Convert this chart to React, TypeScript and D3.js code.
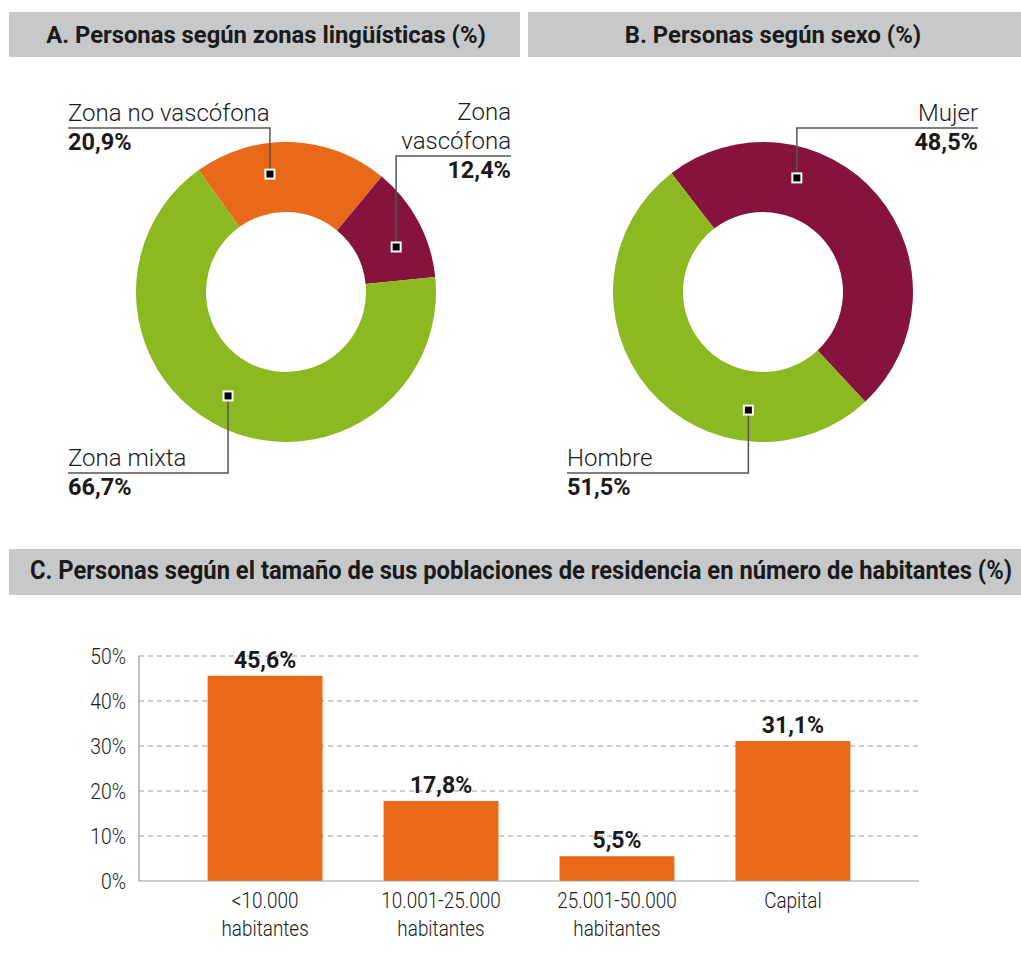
import React, { useEffect, useRef, useState } from "react";
import * as d3 from "d3";

// --- data ---
const zonaNames = ["Zona no vascófona", "Zona vascófona", "Zona mixta"];
const zonaValues = [20.9, 12.4, 66.7];
const sexoNames = ["Mujer", "Hombre"];
const sexoValues = [48.5, 51.5];
const tamanoCats = ["<10.000 habitantes", "10.001-25.000 habitantes", "25.001-50.000 habitantes", "Capital"];
const tamanoValues = [45.6, 17.8, 5.5, 31.1];
const yTicks = [0, 10, 20, 30, 40, 50];

const ORANGE = "#E8691A";
const GREEN = "#8CB922";
const WINE = "#85133E";
const HEADER = "#C7C8CA";
const INK = "#1a1a1a";

const fmt = (v: number) => v.toFixed(1).replace(".", ",") + "%";
const deg = (d: number) => (d * Math.PI) / 180;

type LabelLayout = { frac: number; lineY: number; endX: number; side: "start" | "end"; wrap?: boolean };

function Donut({ cx, cy, names, values, colors, start, layout }: {
  cx: number; cy: number; names: string[]; values: number[]; colors: string[]; start: number; layout: LabelLayout[];
}) {
  const pie = d3.pie<number>().sort(null).startAngle(deg(start)).endAngle(deg(start) + 2 * Math.PI);
  const arcs = pie(values);
  const arc = d3.arc<d3.PieArcDatum<number>>().innerRadius(80).outerRadius(150);
  const markR = 119;
  return (
    <g>
      <g transform={`translate(${cx},${cy})`}>
        {arcs.map((a, i) => (
          <path key={i} d={arc(a) || ""} fill={colors[i]} />
        ))}
      </g>
      {arcs.map((a, i) => {
        const L = layout[i];
        const ang = a.startAngle + L.frac * (a.endAngle - a.startAngle);
        const mx = cx + markR * Math.sin(ang);
        const my = cy - markR * Math.cos(ang);
        const lines = L.wrap ? names[i].split(" ") : [names[i]];
        const textX = L.endX;
        return (
          <g key={"l" + i}>
            <path d={`M${mx},${my}V${L.lineY}H${L.endX}`} fill="none" stroke="#555" strokeWidth={1.5} />
            <rect x={mx - 5.5} y={my - 5.5} width={11} height={11} fill="#fff" />
            <rect x={mx - 3.5} y={my - 3.5} width={7} height={7} fill="#000" />
            {lines.map((t, j) => (
              <text key={j} x={textX} y={L.lineY - 7 - (lines.length - 1 - j) * 29}
                textAnchor={L.side} fontFamily="Roboto" fontWeight={300} fontSize={24} fill={INK}>{t}</text>
            ))}
            <text x={textX} y={L.lineY + 22} textAnchor={L.side} fontFamily="Roboto" fontWeight={700}
              fontSize={23.5} fill={INK}>{fmt(values[i])}</text>
          </g>
        );
      })}
    </g>
  );
}

function Bars() {
  const x = d3.scaleBand<string>().domain(tamanoCats).range([139, 919]).paddingInner(0.347).paddingOuter(0.39);
  const y = d3.scaleLinear().domain([0, 50]).range([881, 656]);
  return (
    <g>
      {yTicks.filter((t) => t > 0).map((t) => (
        <line key={t} x1={139} x2={919} y1={y(t)} y2={y(t)} stroke="#9a9a9a" strokeWidth={1} strokeDasharray="5,4" />
      ))}
      {yTicks.map((t) => (
        <text key={"t" + t} transform={`translate(126,${y(t)}) scale(0.88,1)`} dy="0.36em" textAnchor="end"
          fontFamily="Roboto" fontWeight={300} fontSize={22} fill={INK}>{t}%</text>
      ))}
      {tamanoCats.map((c, i) => (
        <g key={c}>
          <rect x={x(c)} y={y(tamanoValues[i])} width={x.bandwidth()} height={y(0) - y(tamanoValues[i])} fill={ORANGE} />
          <text x={(x(c) || 0) + x.bandwidth() / 2} y={y(tamanoValues[i]) - 8} textAnchor="middle"
            fontFamily="Roboto" fontWeight={700} fontSize={23} fill={INK}>{fmt(tamanoValues[i])}</text>
          {(c === "Capital" ? [c] : [c.split(" ")[0], c.split(" ")[1]]).map((t, j) => (
            <text key={j} transform={`translate(${(x(c) || 0) + x.bandwidth() / 2},${908 + j * 28}) scale(0.86,1)`}
              textAnchor="middle" fontFamily="Roboto" fontWeight={300} fontSize={22} fill={INK}>{t}</text>
          ))}
        </g>
      ))}
      <line x1={139} x2={139} y1={656} y2={881} stroke="#999" strokeWidth={1.2} />
      <line x1={139} x2={919} y1={881} y2={881} stroke="#999" strokeWidth={1.2} />
    </g>
  );
}

function FitTitle({ x, y, width, text }: { x: number; y: number; width: number; text: string }) {
  const ref = useRef<SVGTextElement>(null);
  const [sx, setSx] = useState(0.88);
  useEffect(() => {
    if (ref.current) {
      const len = ref.current.getComputedTextLength();
      if (len > 0) setSx(width / len);
    }
  }, [text, width]);
  return (
    <text ref={ref} transform={`translate(${x},${y}) scale(${sx},1)`} fontFamily="Roboto" fontWeight={700}
      fontSize={25} fill={INK}>{text}</text>
  );
}

export default function App() {
  return (
    <svg width={1021} height={973} style={{ position: "absolute", left: 0, top: 0, background: "#fff" }}>
      <rect x={0} y={0} width={1021} height={973} fill="#fff" />
      <rect x={9} y={12} width={511} height={45} fill={HEADER} />
      <rect x={528} y={12} width={493} height={45} fill={HEADER} />
      <text x={266} y={43} textAnchor="middle" fontFamily="Roboto" fontWeight={700} fontSize={23.8} fill={INK}>
        A. Personas según zonas lingüísticas (%)
      </text>
      <text x={773} y={43} textAnchor="middle" fontFamily="Roboto" fontWeight={700} fontSize={23.8} fill={INK}>
        B. Personas según sexo (%)
      </text>
      <Donut cx={286} cy={292} names={zonaNames} values={zonaValues} colors={[ORANGE, WINE, GREEN]} start={-35.6}
        layout={[
          { frac: 0.37, lineY: 128, endX: 68, side: "start" },
          { frac: 0.63, lineY: 156, endX: 511, side: "end", wrap: true },
          { frac: 0.52, lineY: 473, endX: 68, side: "start" },
        ]} />
      <Donut cx={763} cy={292} names={sexoNames} values={sexoValues} colors={[WINE, GREEN]} start={-37.6}
        layout={[
          { frac: 0.31, lineY: 128, endX: 978, side: "end" },
          { frac: 0.27, lineY: 473, endX: 567, side: "start" },
        ]} />
      <rect x={9} y={549} width={1012} height={46} fill={HEADER} />
      <FitTitle x={30} y={579} width={982}
        text="C. Personas según el tamaño de sus poblaciones de residencia en número de habitantes (%)" />
      <Bars />
    </svg>
  );
}
